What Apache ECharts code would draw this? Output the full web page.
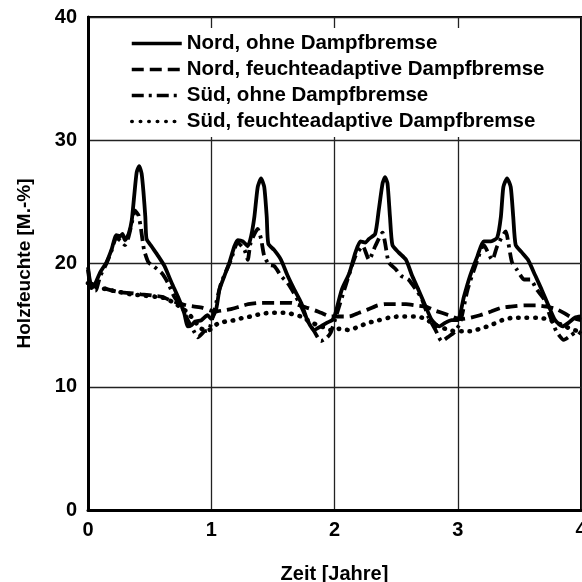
<!DOCTYPE html>
<html>
<head>
<meta charset="utf-8">
<script src="https://cdn.jsdelivr.net/npm/echarts@6/dist/echarts.min.js"></script>
<style>
    html, body { margin: 0; padding: 0; background: #fff; }
    #chart { width: 582px; height: 582px; }
</style>
</head>
<body>
<div id="chart"></div>
<script>
// Zeit [Jahre] / Holzfeuchte [M.-%]
let nordOhne = [
    [0, 19.7], [0.03, 18.0], [0.06, 18.4], [0.1, 19.3], [0.15, 20.1], [0.19, 21.1], [0.23, 22.3], [0.26, 22.2],
    [0.28, 22.4], [0.3, 21.9], [0.33, 22.4], [0.355, 23.5], [0.375, 25.5], [0.395, 27.4], [0.415, 27.9],
    [0.435, 27.3], [0.45, 25.8], [0.465, 23.8], [0.475, 22.0], [0.515, 21.4], [0.57, 20.6], [0.62, 19.8],
    [0.68, 18.4], [0.73, 17.3], [0.78, 16.0], [0.81, 14.9], [0.84, 15.0], [0.87, 15.3], [0.92, 15.4],
    [0.97, 15.8], [1.0, 15.5],
    [1.04, 16.3], [1.067, 17.9], [1.107, 19.0], [1.148, 20.1], [1.188, 21.4], [1.215, 21.9], [1.256, 21.8],
    [1.296, 21.4], [1.323, 22.2], [1.35, 23.8], [1.377, 26.2], [1.404, 26.9], [1.43, 26.2], [1.45, 23.8],
    [1.463, 21.6], [1.51, 21.1], [1.566, 20.3], [1.62, 19.0], [1.673, 17.9], [1.73, 16.8], [1.78, 15.4],
    [1.835, 14.6], [1.89, 14.9], [1.94, 15.2], [1.98, 15.4],
    [2.0, 15.7], [2.06, 17.9], [2.12, 19.2], [2.17, 20.9], [2.21, 21.8], [2.25, 21.7], [2.28, 22.0],
    [2.33, 22.4], [2.36, 24.4], [2.39, 26.5], [2.41, 27.0], [2.43, 26.5], [2.45, 23.8], [2.47, 21.5],
    [2.52, 20.9], [2.58, 20.3], [2.63, 19.0], [2.68, 17.9], [2.74, 16.5], [2.79, 15.4], [2.85, 14.9],
    [2.9, 15.2], [2.95, 15.4],
    [3.0, 15.4], [3.05, 17.3], [3.1, 19.0], [3.16, 20.6], [3.21, 21.8], [3.27, 21.8], [3.32, 22.1],
    [3.35, 23.8], [3.37, 26.2], [3.4, 26.9], [3.43, 26.2], [3.45, 23.8], [3.47, 21.5], [3.52, 20.9],
    [3.57, 20.3], [3.63, 19.0], [3.68, 17.9], [3.74, 16.5], [3.79, 15.4], [3.85, 14.9], [3.9, 15.2],
    [3.95, 15.6], [4.0, 15.7]
];

let nordAdaptiv = [
    [0, 18.6], [0.04, 18.3], [0.08, 18.2], [0.16, 17.9], [0.24, 17.7], [0.34, 17.6], [0.43, 17.5], [0.52, 17.4],
    [0.6, 17.3], [0.67, 17.0], [0.73, 16.8], [0.8, 16.6], [0.865, 16.5], [0.93, 16.4], [0.99, 16.2],
    [1.03, 16.1], [1.1, 16.2], [1.16, 16.3], [1.23, 16.5], [1.3, 16.7], [1.38, 16.8], [1.46, 16.8],
    [1.55, 16.8], [1.65, 16.8], [1.72, 16.6], [1.78, 16.4], [1.84, 16.2], [1.89, 16.0], [1.97, 15.7],
    [2.05, 15.7], [2.12, 15.7], [2.2, 16.0], [2.28, 16.3], [2.35, 16.6], [2.41, 16.7], [2.5, 16.7],
    [2.58, 16.7], [2.66, 16.6], [2.74, 16.5], [2.81, 16.2], [2.87, 16.0], [2.93, 15.8], [2.98, 15.6],
    [3.04, 15.5], [3.1, 15.6], [3.18, 15.8], [3.27, 16.1], [3.35, 16.4], [3.43, 16.5], [3.54, 16.6],
    [3.64, 16.6], [3.72, 16.5], [3.8, 16.3], [3.86, 16.0], [3.91, 15.7], [3.96, 15.5], [4.0, 15.4]
];

let suedOhne = [
    [0, 19.5], [0.03, 17.8], [0.06, 17.8], [0.1, 19.0], [0.15, 20.0], [0.19, 21.0], [0.23, 22.1], [0.27, 21.8],
    [0.3, 21.5], [0.33, 22.2], [0.36, 23.5], [0.38, 24.3], [0.41, 23.9], [0.43, 22.8], [0.455, 21.1],
    [0.49, 20.1], [0.53, 19.8], [0.6, 19.2], [0.65, 18.4], [0.7, 17.3], [0.76, 16.5], [0.81, 15.4],
    [0.865, 14.4], [0.89, 14.0], [0.945, 14.5], [0.98, 14.6],
    [1.0, 15.2], [1.04, 16.8], [1.08, 18.4], [1.16, 20.3], [1.215, 21.7], [1.27, 21.1], [1.296, 20.3],
    [1.32, 21.7], [1.377, 22.8], [1.404, 22.0], [1.43, 20.6], [1.47, 19.9], [1.51, 19.8], [1.566, 19.0],
    [1.62, 18.4], [1.67, 17.6], [1.73, 16.5], [1.78, 15.4], [1.835, 14.5], [1.89, 13.7], [1.94, 14.0],
    [1.97, 14.4],
    [2.0, 15.3], [2.09, 18.2], [2.17, 20.6], [2.23, 21.4], [2.28, 20.3], [2.33, 21.4], [2.39, 22.5],
    [2.41, 21.7], [2.44, 20.1], [2.5, 19.5], [2.54, 19.0], [2.6, 18.7], [2.66, 17.9], [2.71, 17.1],
    [2.76, 15.7], [2.82, 14.6], [2.87, 13.7], [2.93, 14.1], [2.97, 14.4],
    [3.02, 15.2], [3.08, 17.9], [3.16, 20.3], [3.21, 21.5], [3.28, 20.3], [3.32, 21.4], [3.39, 22.6],
    [3.41, 21.7], [3.44, 20.1], [3.48, 19.5], [3.54, 18.7], [3.59, 18.7], [3.64, 17.9], [3.7, 17.1],
    [3.75, 15.7], [3.8, 14.5], [3.86, 13.8], [3.91, 14.1], [3.97, 14.5], [4.0, 14.3]
];

let suedAdaptiv = [
    [0, 18.4], [0.05, 18.2], [0.15, 17.9], [0.25, 17.7], [0.35, 17.5], [0.45, 17.4], [0.55, 17.3], [0.62, 17.2],
    [0.7, 16.8], [0.76, 16.4], [0.81, 16.0], [0.86, 15.4], [0.91, 14.8], [0.96, 14.5], [1.0, 14.7],
    [1.05, 15.1], [1.12, 15.3], [1.19, 15.4], [1.26, 15.6], [1.32, 15.7], [1.4, 15.9], [1.48, 16.0],
    [1.55, 16.0], [1.62, 16.0], [1.68, 15.8], [1.73, 15.7], [1.8, 15.3], [1.86, 15.0], [1.92, 14.8],
    [1.97, 14.6], [2.04, 14.7], [2.12, 14.6], [2.2, 14.9], [2.28, 15.2], [2.36, 15.4], [2.44, 15.6],
    [2.52, 15.7], [2.6, 15.7], [2.66, 15.7], [2.71, 15.6], [2.77, 15.3], [2.82, 15.0], [2.9, 14.7],
    [2.98, 14.5], [3.04, 14.5], [3.1, 14.5], [3.18, 14.7], [3.27, 15.0], [3.36, 15.4], [3.45, 15.6],
    [3.55, 15.6], [3.64, 15.6], [3.72, 15.5], [3.8, 15.2], [3.87, 14.9], [3.94, 14.6], [4.0, 14.5]
];

let seriesNames = [
    'Nord, ohne Dampfbremse',
    'Nord, feuchteadaptive Dampfbremse',
    'Süd, ohne Dampfbremse',
    'Süd, feuchteadaptive Dampfbremse'
];

let font = '"Liberation Sans", Arial, sans-serif';
let boldText = size => ({ fontFamily: font, fontWeight: 'bold', fontSize: size, color: '#000' });

let mkLine = (name, data, type, width, cap) => ({
    name: name,
    type: 'line',
    data: data,
    color: '#000',
    showSymbol: false,
    symbol: 'none',
    smooth: 0.2,
    itemStyle: { color: '#000', opacity: 0 },
    lineStyle: { color: '#000', width: width, type: type, cap: cap || 'butt' }
});

let chart = echarts.init(document.getElementById('chart'));

chart.setOption({
    backgroundColor: '#fff',
    animation: false,
    grid: {
        left: 88, right: 1, top: 17, bottom: 72,
        outerBoundsMode: 'none',
        containLabel: false,
        show: true, borderColor: '#000', borderWidth: 2
    },
    legend: {
        orient: 'vertical',
        left: 122, top: 28,
        padding: [5, 8],
        backgroundColor: '#fff',
        itemWidth: 50, itemHeight: 14, itemGap: 5,
        itemStyle: { opacity: 0 },
        lineStyle: { width: 3.5 },
        textStyle: boldText(20.5),
        data: seriesNames
    },
    xAxis: {
        type: 'value', min: 0, max: 4, interval: 1,
        name: 'Zeit [Jahre]', nameLocation: 'middle', nameGap: 54,
        nameTextStyle: boldText(20),
        axisLine: { lineStyle: { color: '#000', width: 3 } },
        axisTick: { show: false },
        axisLabel: Object.assign(boldText(20), { margin: 10 }),
        splitLine: { lineStyle: { color: '#222', width: 1.3 } }
    },
    yAxis: {
        type: 'value', min: 0, max: 40, interval: 10,
        name: 'Holzfeuchte [M.-%]', nameLocation: 'middle', nameGap: 54,
        nameTextStyle: boldText(19),
        axisLine: { lineStyle: { color: '#000', width: 3 } },
        axisTick: { show: false },
        axisLabel: Object.assign(boldText(20), { margin: 11 }),
        splitLine: { lineStyle: { color: '#222', width: 1.3 } }
    },
    series: [
        mkLine(seriesNames[0], nordOhne, 'solid', 3.8),
        mkLine(seriesNames[1], nordAdaptiv, [12, 6], 3.8),
        mkLine(seriesNames[2], suedOhne, [12, 5, 3, 5], 3.8),
        mkLine(seriesNames[3], suedAdaptiv, [0.5, 8], 4.6, 'round')
    ]
});
</script>
</body>
</html>
